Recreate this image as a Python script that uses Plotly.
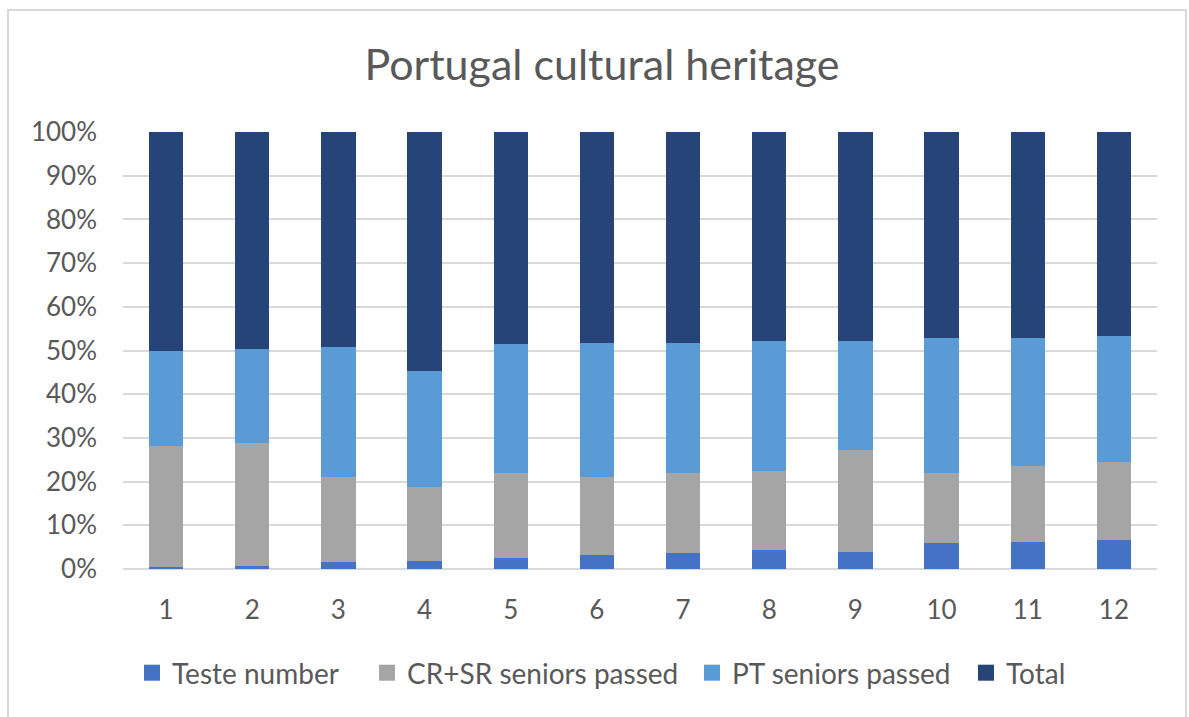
import plotly.graph_objects as go

# Months / test rounds on the category axis
categories = ["1", "2", "3", "4", "5", "6", "7", "8", "9", "10", "11", "12"]

# Share of each series within the stacked column (percent)
teste_number = [0.4, 0.8, 1.5, 1.9, 2.6, 3.2, 3.7, 4.4, 4.0, 5.9, 6.2, 6.6]
cr_sr_passed = [27.8, 28.1, 19.5, 16.9, 19.4, 17.8, 18.3, 18.0, 23.2, 16.1, 17.4, 18.0]
pt_passed = [21.8, 21.4, 29.7, 26.5, 29.4, 30.8, 29.8, 29.8, 25.0, 30.9, 29.3, 28.7]
total = [50.0, 49.7, 49.3, 54.7, 48.6, 48.2, 48.2, 47.8, 47.8, 47.1, 47.1, 46.7]

series_names = ["Teste number", "CR+SR seniors passed", "PT seniors passed", "Total"]
series_values = [teste_number, cr_sr_passed, pt_passed, total]
series_colors = ["#4472C4", "#A5A5A5", "#5B9BD5", "#264478"]

FONT = "Lato"
TEXT_COLOR = "#595959"
W, H = 1189, 717

# each series gets its own legend box so the entries can be spaced freely
legend_ids = ["legend", "legend2", "legend3", "legend4"]
legend_left_px = [132, 367, 692, 966]

fig = go.Figure()
for name, values, color, lid in zip(series_names, series_values, series_colors, legend_ids):
    fig.add_trace(go.Bar(
        x=categories,
        y=values,
        name=name,
        legendgroup=name,
        showlegend=False,
        marker=dict(color=color, line=dict(width=0)),
        hovertemplate="%{x}: %{y:.1f}%<extra>" + name + "</extra>",
    ))
    # larger square swatch for the legend entry
    fig.add_trace(go.Scatter(
        x=[None], y=[None],
        mode="markers",
        name=name,
        legend=lid,
        legendgroup=name,
        marker=dict(symbol="square", size=17, color=color),
        hoverinfo="skip",
    ))

legend_style = dict(
    orientation="h",
    xref="container", xanchor="left",
    y=1 - 673 / H, yref="container", yanchor="middle",
    font=dict(family=FONT, size=28, color=TEXT_COLOR),
    bgcolor="rgba(0,0,0,0)",
    itemwidth=30,
    itemclick=False,
    itemdoubleclick=False,
)
legend_layout = {lid: dict(legend_style, x=px / W) for lid, px in zip(legend_ids, legend_left_px)}

fig.update_layout(
    width=W,
    height=H,
    barmode="stack",
    bargap=0.6,
    paper_bgcolor="white",
    plot_bgcolor="white",
    margin=dict(l=123, r=32, t=132, b=148),
    font=dict(family=FONT, color=TEXT_COLOR, size=26),
    title=dict(
        text="Portugal cultural heritage",
        font=dict(family=FONT, size=43, color=TEXT_COLOR),
        x=602 / W, xref="container", xanchor="center",
        y=1 - 65 / H, yref="container", yanchor="middle",
    ),
    showlegend=True,
    **legend_layout,
)

fig.update_xaxes(
    type="category",
    showgrid=False,
    showline=False,
    ticks="",
    ticklabelstandoff=23,
    tickfont=dict(family=FONT, size=26, color=TEXT_COLOR),
)

fig.update_yaxes(
    range=[0, 100],
    dtick=10,
    ticksuffix="%",
    showgrid=True,
    gridcolor="#D9D9D9",
    gridwidth=1.5,
    zeroline=True,
    zerolinecolor="#D9D9D9",
    zerolinewidth=1.5,
    showline=False,
    ticks="",
    ticklabelstandoff=25,
    tickfont=dict(family=FONT, size=26, color=TEXT_COLOR),
)

# Thin frame around the whole chart
fig.add_shape(
    type="rect",
    xref="paper", yref="paper",
    x0=-0.1112, x1=1.028, y0=-0.36, y1=1.279,
    line=dict(color="#D9D9D9", width=2),
    fillcolor="rgba(0,0,0,0)",
    layer="below",
)

fig.write_html("out.html")
